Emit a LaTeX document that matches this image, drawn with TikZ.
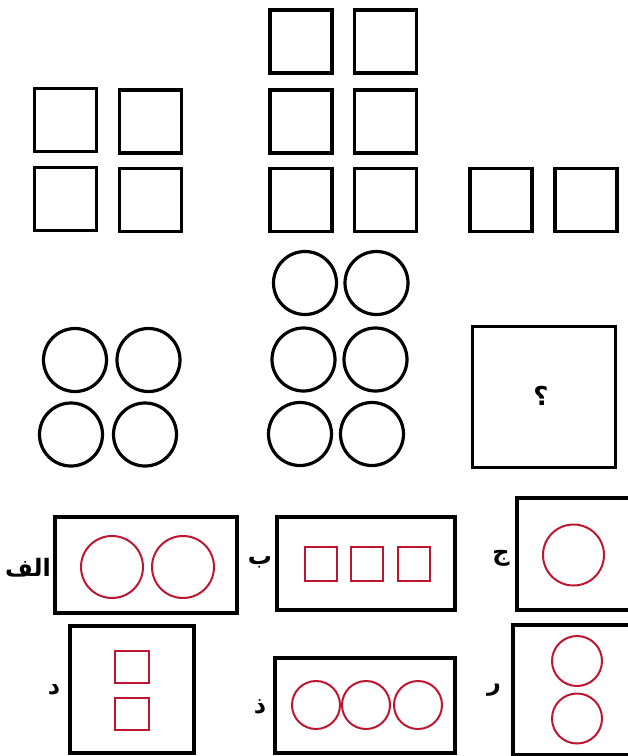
\documentclass[tikz,border=0pt]{standalone}
\usepackage{fontspec}
\TeXXeTstate=1
\newfontfamily\arabicfont[Script=Arabic]{DejaVu Sans}
\definecolor{optred}{RGB}{190,22,48}
\begin{document}
\begin{tikzpicture}[x=1pt,y=-1pt,
  sq/.style={draw=black,line width=3.4pt,minimum width=62pt,minimum height=63pt,inner sep=0pt,outer sep=0pt},
  cir/.style={draw=black,line width=3.2pt,circle,minimum size=63pt,inner sep=0pt},
  obox/.style={draw=black,line width=3.2pt,inner sep=0pt,outer sep=0pt},
  rsq/.style={draw=optred,line width=2pt,inner sep=0pt},
  rcir/.style={draw=optred,line width=2pt,circle,inner sep=0pt},
  lab/.style={font=\arabicfont\bfseries\fontsize{24}{26}\selectfont,inner sep=0pt}]
\useasboundingbox (0,0) rectangle (628,756);
\clip (0,0) rectangle (628,756);
% top squares
\node[sq] (s1) at (65.5,120) {};
\node[sq] (s2) at (150.5,121.5) {};
\node[sq] (s3) at (65.5,199) {};
\node[sq] (s4) at (150.5,200) {};
\node[sq] (m1) at (301,41.5) {};
\node[sq] (m2) at (385.5,41.5) {};
\node[sq] (m3) at (301,121.5) {};
\node[sq] (m4) at (385.5,121.5) {};
\node[sq] (m5) at (301,200) {};
\node[sq] (m6) at (385.5,200) {};
\node[sq] (r1) at (501,200) {};
\node[sq] (r2) at (586,200) {};
% circles
\node[cir] (c1) at (75,360) {};
\node[cir] (c2) at (148.5,360) {};
\node[cir] (c3) at (71,434.5) {};
\node[cir] (c4) at (145,434.5) {};
\node[cir] (d1) at (305,283) {};
\node[cir] (d2) at (376.5,283) {};
\node[cir] (d3) at (303.5,359.5) {};
\node[cir] (d4) at (375.5,359.5) {};
\node[cir] (d5) at (300,434) {};
\node[cir] (d6) at (372,434) {};
% question box
\node[obox,line width=3.6pt,minimum width=143pt,minimum height=141pt] (q) at (544,397) {};
\node[font=\arabicfont\bfseries\fontsize{26}{28}\selectfont,inner sep=0pt] (qm) at (541,396) {\beginR ؟\endR};
% option alef
\node[obox,minimum width=182pt,minimum height=96pt] (oa) at (146,565) {};
\node[rcir,minimum size=62pt] (oa1) at (112,567) {};
\node[rcir,minimum size=62pt] (oa2) at (183,567) {};
\node[lab] (la) at (28,568) {\beginR الف\endR};
% option be
\node[obox,minimum width=178pt,minimum height=93pt] (ob) at (366,563.5) {};
\node[rsq,minimum width=32pt,minimum height=34pt] (ob1) at (321,564) {};
\node[rsq,minimum width=32pt,minimum height=34pt] (ob2) at (367,564) {};
\node[rsq,minimum width=32pt,minimum height=34pt] (ob3) at (413.5,564) {};
\node[lab] (lb) at (260,562) {\beginR ب\endR};
% option jim
\node[obox,minimum width=113pt,minimum height=112pt] (oj) at (573.5,554) {};
\node[rcir,minimum size=61pt] (oj1) at (573.5,555) {};
\node[lab] (lj) at (501,558) {\beginR ج\endR};
% option dal
\node[obox,minimum width=124pt,minimum height=127pt] (od) at (132,689.5) {};
\node[rsq,minimum width=34pt,minimum height=32pt] (od1) at (132,667) {};
\node[rsq,minimum width=34pt,minimum height=32pt] (od2) at (132,713.5) {};
\node[lab] (ld) at (54,690) {\beginR د\endR};
% option zal
\node[obox,minimum width=180pt,minimum height=95pt] (oz) at (365,705.5) {};
\node[rcir,minimum size=48pt] (oz1) at (316,705) {};
\node[rcir,minimum size=48pt] (oz2) at (366,705) {};
\node[rcir,minimum size=48pt] (oz3) at (418,705) {};
\node[lab] (lz) at (260,707) {\beginR ذ\endR};
% option re
\node[obox,minimum width=117pt,minimum height=130pt] (or) at (571.5,690) {};
\node[rcir,minimum size=50pt] (or1) at (577,661) {};
\node[rcir,minimum size=50pt] (or2) at (577,718.5) {};
\node[lab] (lr) at (494,690) {\beginR ر\endR};
\end{tikzpicture}
\end{document}
